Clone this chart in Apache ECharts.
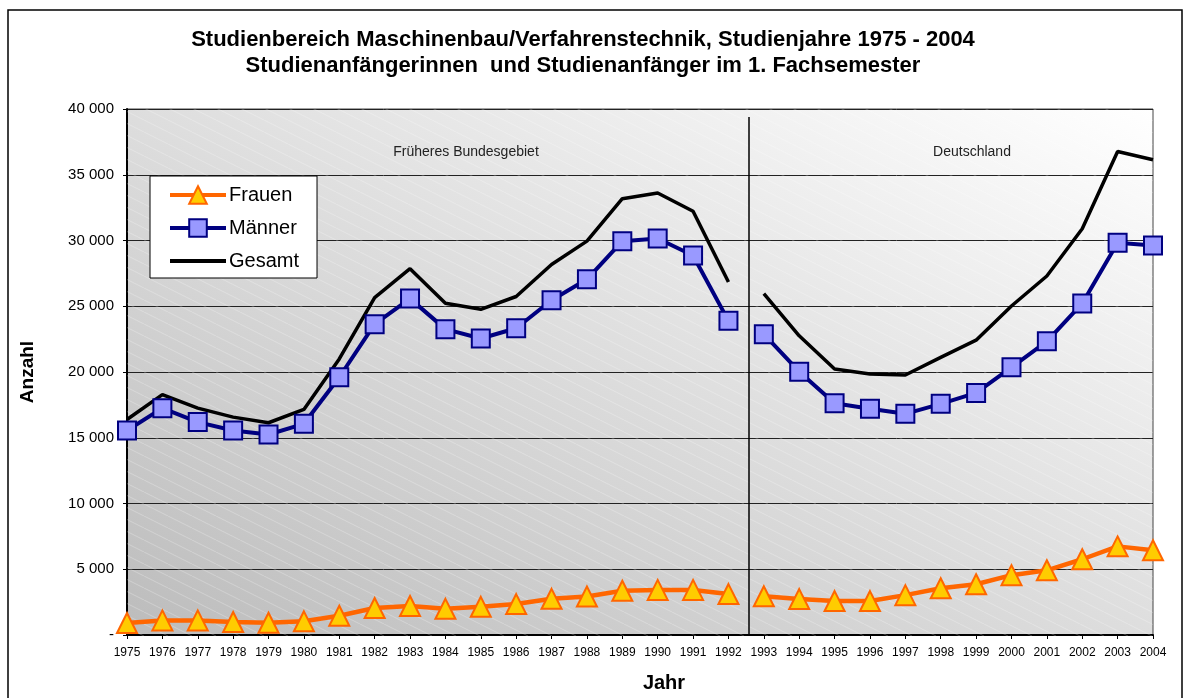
<!DOCTYPE html>
<html>
<head>
<meta charset="utf-8">
<script src="https://cdn.jsdelivr.net/npm/echarts@6/dist/echarts.min.js"></script>
<style>
  html, body { margin: 0; padding: 0; background: #fff; }
  #main { width: 1190px; height: 698px; }
</style>
</head>
<body>
<div id="main"></div>
<script>
// Studienanfänger im 1. Fachsemester, Maschinenbau/Verfahrenstechnik
var years = [1975, 1976, 1977, 1978, 1979, 1980, 1981, 1982, 1983, 1984,
             1985, 1986, 1987, 1988, 1989, 1990, 1991, 1992, 1993, 1994,
             1995, 1996, 1997, 1998, 1999, 2000, 2001, 2002, 2003, 2004];
var frauen = [910, 1110, 1110, 985, 930, 1040, 1460, 2050, 2200, 1990,
              2140, 2350, 2750, 2930, 3360, 3430, 3430, 3110, 2950, 2730,
              2580, 2580, 3030, 3560, 3860, 4550, 4920, 5760, 6740, 6440];
var maenner = [15550, 17250, 16190, 15550, 15250, 16060, 19600, 23640, 25580, 23260,
               22550, 23330, 25460, 27050, 29950, 30150, 28860, 23890, 22880, 20020,
               17630, 17200, 16820, 17580, 18410, 20360, 22330, 25210, 29830, 29620];
var gesamt = [16390, 18280, 17250, 16570, 16140, 17150, 20990, 25660, 27860, 25230,
              24770, 25740, 28180, 29950, 33180, 33610, 32220, 26840, 25960, 22750,
              20230, 19850, 19770, 21110, 22420, 25020, 27300, 30890, 36770, 36140];

var lastWestYear = 1992;   // bis hier: Früheres Bundesgebiet
var splitYear = 1992.58;   // Trennlinie
var regionNames = ['Früheres Bundesgebiet', 'Deutschland'];

var font = 'Liberation Sans';
var gridL = 127, gridR = 37, gridT = 109, gridB = 61;
var gw = 1190 - gridL - gridR, gh = 698 - gridT - gridB;

function part(values, west) {
    var out = [];
    for (var i = 0; i < years.length; i++) {
        if ((years[i] <= lastWestYear) === west) out.push([years[i], values[i]]);
    }
    return out;
}

function fmt(v) {
    if (v === 0) return '-';
    return String(v).replace(/\B(?=(\d{3})+(?!\d))/g, ' ');
}

// Verlauf wie in Excel: unten links dunkel, oben rechts weiss
var dn = Math.sqrt(gw * gw + gh * gh);
var L = 2 * gw * gh / dn;
var bg = new echarts.graphic.LinearGradient(0, 1, L * gh / dn / gw, 1 - L * gw / dn / gh, [
    { offset: 0, color: '#bcbcbc' },
    { offset: 1, color: '#ffffff' }
]);

// feine Schraffur
var hatch = document.createElement('canvas');
hatch.width = 24; hatch.height = 12;
var hc = hatch.getContext('2d');
hc.strokeStyle = 'rgba(255,255,255,0.25)';
hc.lineWidth = 1;
[-24, 0, 24].forEach(function (o) {
    hc.beginPath(); hc.moveTo(o, 0); hc.lineTo(o + 24, 12); hc.stroke();
});

var frauenStyle = {
    type: 'line', name: 'Frauen', symbol: 'triangle', symbolSize: 20,
    lineStyle: { color: '#ff6600', width: 4.5 },
    itemStyle: { color: '#ffcc00', borderColor: '#ff6600', borderWidth: 2 },
    z: 4
};
var maennerStyle = {
    type: 'line', name: 'Männer', symbol: 'rect', symbolSize: 18,
    lineStyle: { color: '#000080', width: 4 },
    itemStyle: { color: '#9999ff', borderColor: '#000080', borderWidth: 2 },
    z: 3
};
var gesamtStyle = {
    type: 'line', name: 'Gesamt', symbol: 'none',
    lineStyle: { color: '#000000', width: 3.5 },
    itemStyle: { color: '#000000' },
    z: 2
};

function mk(base, data, extra) {
    var s = Object.assign({}, base, { data: data });
    return Object.assign(s, extra || {});
}

var chart = echarts.init(document.getElementById('main'));
var option = {
    animation: false,
    backgroundColor: '#ffffff',
    textStyle: { fontFamily: font },
    grid: {
        left: gridL, right: gridR, top: gridT, bottom: gridB,
        show: true, backgroundColor: bg, borderColor: '#444', borderWidth: 1
    },
    legend: {
        data: [
            'Frauen',
            'Männer',
            { name: 'Gesamt', itemStyle: { color: 'rgba(0,0,0,0)', borderColor: 'rgba(0,0,0,0)', borderWidth: 0 } }
        ],
        orient: 'vertical',
        left: 150, top: 176,
        itemWidth: 56, itemHeight: 22, itemGap: 13,
        padding: [9, 18, 7, 18],
        lineStyle: { width: 4 },
        backgroundColor: '#ffffff', borderColor: '#000', borderWidth: 1,
        textStyle: { fontSize: 20, color: '#000', fontFamily: font, padding: [0, 0, 0, -2] }
    },
    xAxis: {
        type: 'value', min: 1975, max: 2004, interval: 1,
        name: 'Jahr', nameLocation: 'middle', nameGap: 38,
        nameTextStyle: { fontSize: 20, fontWeight: 'bold', color: '#000', padding: [0, 0, 0, 48] },
        axisLine: { show: true, lineStyle: { color: '#000', width: 2 } },
        axisTick: { show: true, length: 4, lineStyle: { color: '#000' } },
        axisLabel: { fontSize: 12, color: '#000', margin: 12, formatter: function (v) { return String(v); } },
        splitLine: { show: false }
    },
    yAxis: {
        type: 'value', min: 0, max: 40000, interval: 5000,
        name: 'Anzahl', nameLocation: 'middle', nameGap: 90,
        nameTextStyle: { fontSize: 19, fontWeight: 'bold', color: '#000' },
        axisLine: { show: true, lineStyle: { color: '#000', width: 2 } },
        axisTick: { show: true, length: 4, lineStyle: { color: '#000' } },
        axisLabel: { fontSize: 15, color: '#000', margin: 13, formatter: fmt },
        splitLine: { show: true, lineStyle: { color: '#222', width: 1 } }
    },
    graphic: [
        { type: 'rect', silent: true, z: 1,
          shape: { x: gridL, y: gridT, width: gw, height: gh },
          style: { fill: { image: hatch, repeat: 'repeat' } } },
        { type: 'text', x: 583, y: 40,
          style: { text: 'Studienbereich Maschinenbau/Verfahrenstechnik, Studienjahre 1975 - 2004',
                   font: 'bold 22px ' + font, fill: '#000', align: 'center', verticalAlign: 'middle' } },
        { type: 'text', x: 583, y: 66,
          style: { text: 'Studienanfängerinnen  und Studienanfänger im 1. Fachsemester',
                   font: 'bold 22px ' + font, fill: '#000', align: 'center', verticalAlign: 'middle' } },
        { type: 'text', x: 466, y: 152, z: 5,
          style: { text: regionNames[0], font: '14px ' + font, fill: '#222', align: 'center', verticalAlign: 'middle' } },
        { type: 'text', x: 972, y: 152, z: 5,
          style: { text: regionNames[1], font: '14px ' + font, fill: '#222', align: 'center', verticalAlign: 'middle' } },
        { type: 'rect', silent: true, z: 10,
          shape: { x: 8, y: 10, width: 1174, height: 720 },
          style: { fill: 'none', stroke: '#000', lineWidth: 1.5 } }
    ],
    series: [
        mk(gesamtStyle, part(gesamt, true), {
            markLine: {
                silent: true, symbol: ['none', 'none'],
                label: { show: false },
                lineStyle: { color: '#000', width: 1.5, type: 'solid' },
                data: [[{ coord: [splitYear, 39400] }, { coord: [splitYear, 0] }]]
            }
        }),
        mk(gesamtStyle, part(gesamt, false)),
        mk(maennerStyle, part(maenner, true)),
        mk(maennerStyle, part(maenner, false)),
        mk(frauenStyle, part(frauen, true)),
        mk(frauenStyle, part(frauen, false))
    ]
};
chart.setOption(option);
</script>
</body>
</html>
